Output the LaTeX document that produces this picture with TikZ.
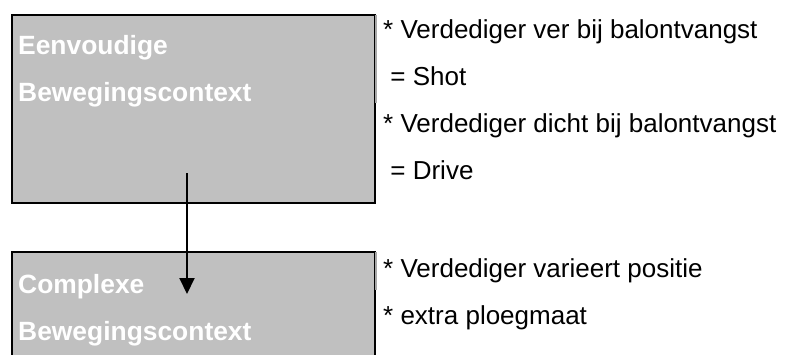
\documentclass[tikz,border=0pt]{standalone}
\usepackage{fontspec}
\setmainfont{Liberation Sans}
\usetikzlibrary{arrows.meta}
\definecolor{boxgray}{HTML}{C0C0C0}
\definecolor{edgegray}{HTML}{A8A8A8}
\tikzset{
  ctxbox/.style={draw=black, line width=2pt, fill=boxgray, inner sep=0pt, anchor=north west},
  boxtxt/.style={anchor=base west, inner sep=0pt, text=white, font=\fontsize{26.4}{30}\selectfont\bfseries},
  sidetxt/.style={anchor=base west, inner sep=0pt, text=black, font=\fontsize{26}{30}\selectfont},
  arr/.style={draw=black, line width=2pt, -{Triangle[length=16pt,width=15pt]}},
}
\begin{document}
\begin{tikzpicture}[x=1pt,y=-1pt]
\useasboundingbox (0,0) rectangle (792,354);
\fill[white] (0,0) rectangle (792,354);
\begin{scope}
\clip (0,0) rectangle (792,354);
% top box
\node[ctxbox, minimum width=363pt, minimum height=188pt] (box1) at (11,14) {};
\draw[edgegray, line width=2pt] (box1.north east) ++(0,1) -- ++(0,88);
% bottom box
\node[ctxbox, minimum width=363pt, minimum height=130pt] (box2) at (11,251) {};
\draw[edgegray, line width=2pt] (box2.north east) ++(0,1) -- ++(0,38);
\end{scope}
% box texts
\node[boxtxt] (t1) at (18,54) {Eenvoudige};
\node[boxtxt] (t2) at (18,101) {Bewegingscontext};
\node[boxtxt] (t3) at (18,293) {Complexe};
\node[boxtxt] (t4) at (18,340) {Bewegingscontext};
% arrow
\coordinate (a1) at (187,173);
\coordinate (a2) at (187,294);
\draw[arr] (a1) -- (a2);
% side texts
\node[sidetxt] (s1) at (383,38) {* Verdediger ver bij balontvangst};
\node[sidetxt] (s2) at (383,85) {\ = Shot};
\node[sidetxt] (s3) at (383,132) {* Verdediger dicht bij balontvangst};
\node[sidetxt] (s4) at (383,179) {\ = Drive};
\node[sidetxt] (s5) at (383,277) {* Verdediger varieert positie};
\node[sidetxt] (s6) at (383,324) {* extra ploegmaat};
\end{tikzpicture}
\end{document}
